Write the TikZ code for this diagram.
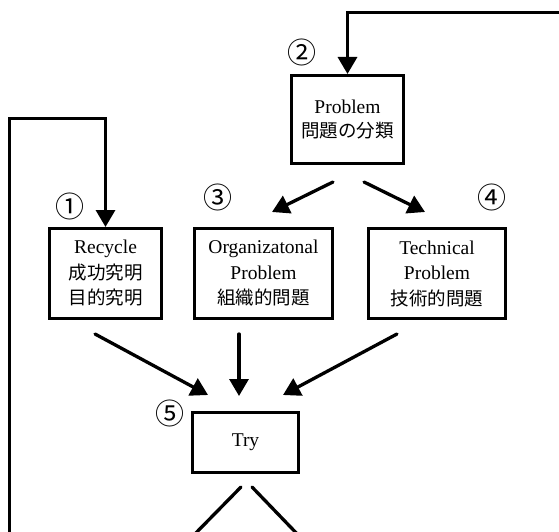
\documentclass[tikz,border=0pt]{standalone}
\usepackage{fontspec}
\setmainfont{Liberation Serif}
\newfontfamily\jpfont{Noto Sans CJK JP}
\usetikzlibrary{arrows.meta}
\newcommand\jp[1]{{\jpfont\fontsize{18.5}{25}\selectfont #1}}
\begin{document}
\begin{tikzpicture}[x=1pt,y=-1pt,
  box/.style={draw,line width=3.3pt,rectangle,align=center,inner sep=0pt,
    font=\fontsize{19.5}{25.5}\selectfont},
  midbox/.style={box,minimum height=89.7pt},
  flow/.style={line width=3.3pt,line cap=round,-{Triangle[width=19pt,length=17pt]}},
  loopflow/.style={line width=3.3pt,line join=miter,-{Triangle[width=19pt,length=17pt]}},
  plainflow/.style={line width=3.3pt,line cap=round},
  num/.style={font=\jpfont\fontsize{29}{29}\selectfont,inner sep=0pt}]

\path[use as bounding box,clip] (0,0) rectangle (559,532);

% boxes
\node[box,minimum width=111.7pt,minimum height=87.7pt,font=\fontsize{19.5}{24}\selectfont]
  (prob) at (347.5,119.5) {Problem\\\jp{問題の分類}};
\node[midbox,minimum width=111.7pt] (rec) at (105.5,273.5)
  {Recycle\\\jp{成功究明}\\\jp{目的究明}};
\node[midbox,minimum width=137.7pt] (org) at (263.5,273.5)
  {Organizatonal\\Problem\\\jp{組織的問題}};
\node[midbox,minimum width=136.7pt] (tech) at (437,273.5)
  {Technical\\Problem\\\jp{技術的問題}};
\node[box,minimum width=105.7pt,minimum height=59.7pt] (try) at (245.5,442.5) {Try};

% step numbers
\node[num] (n1) at (70,206) {①};
\node[num] (n2) at (302,52) {②};
\node[num] (n3) at (218,197) {③};
\node[num] (n4) at (492,197) {④};
\node[num] (n5) at (170,413) {⑤};

% feedback loops
\coordinate (topin) at (565,12.5);
\coordinate (backin) at (9.5,540);
\coordinate (rectop) at (105.5,118.5);
\draw[loopflow] (topin) -| (prob.north);
\draw[loopflow] (backin) |- (rectop) -- (rec.north);

% problem split
\coordinate (p1s) at (333,182);
\coordinate (p1e) at (272,212);
\coordinate (p2s) at (364,182);
\coordinate (p2e) at (425,212);
\draw[flow] (p1s) -- (p1e);
\draw[flow] (p2s) -- (p2e);

% into Try
\coordinate (t1s) at (95,334);
\coordinate (t1e) at (208,395);
\coordinate (t2s) at (239,334);
\coordinate (t2e) at (239,396);
\coordinate (t3s) at (397,334);
\coordinate (t3e) at (283,395);
\draw[flow] (t1s) -- (t1e);
\draw[flow] (t2s) -- (t2e);
\draw[flow] (t3s) -- (t3e);

% out of Try
\coordinate (o1s) at (241,487);
\coordinate (o1e) at (189,540);
\coordinate (o2s) at (252,487);
\coordinate (o2e) at (303,540);
\draw[plainflow] (o1s) -- (o1e);
\draw[plainflow] (o2s) -- (o2e);
\end{tikzpicture}
\end{document}
